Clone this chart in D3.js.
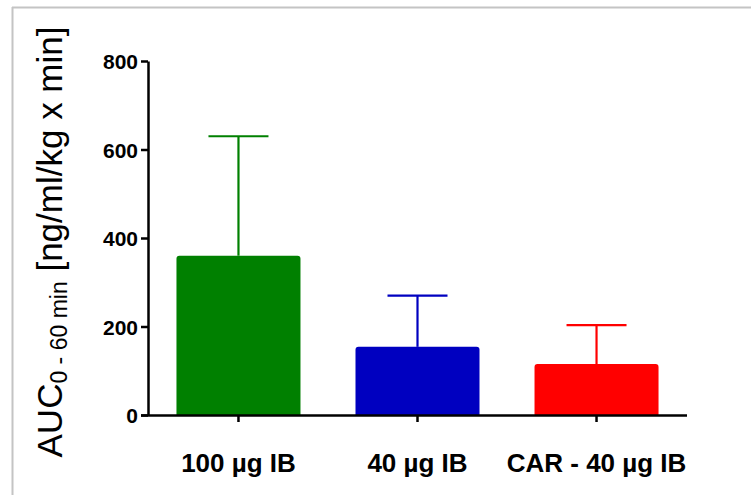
<!DOCTYPE html>
<html>
<head>
<meta charset="utf-8">
<script src="https://cdn.jsdelivr.net/npm/d3@7"></script>
<style>
  html, body { margin: 0; padding: 0; background: #fff; }
  svg { display: block; }
  .tick text { font-family: "Liberation Sans", Arial, sans-serif; font-weight: bold; fill: #000; }
</style>
</head>
<body>
<svg id="chart" width="751" height="495"></svg>
<script>
// Groups, mean AUC and upper error (SD) values
const groups = ["100 µg IB", "40 µg IB", "CAR - 40 µg IB"];
const means = [360, 154, 115];
const errors = [270, 116, 88];
const colors = ["#008000", "#0000c0", "#ff0000"];
const yTicks = [0, 200, 400, 600, 800];

const svg = d3.select("#chart");

// Frame lines around the figure panel
svg.append("line").attr("x1", 12).attr("x2", 751).attr("y1", 7.5).attr("y2", 7.5)
  .attr("stroke", "#c4c4c4").attr("stroke-width", 2);
svg.append("line").attr("x1", 12.5).attr("x2", 12.5).attr("y1", 7).attr("y2", 495)
  .attr("stroke", "#c4c4c4").attr("stroke-width", 2);

const x = d3.scaleBand().domain(groups).range([148, 687])
  .paddingInner(0.3073).paddingOuter(0.159);
const y = d3.scaleLinear().domain([0, 800]).range([415, 61]);

// Bars with softly rounded top corners
const r = 3;
svg.append("g").selectAll("path").data(groups).join("path")
  .attr("fill", (d, i) => colors[i])
  .attr("d", (d, i) => {
    const x0 = x(d), x1 = x(d) + x.bandwidth();
    const yt = y(means[i]), yb = y(0);
    return `M${x0},${yb} L${x0},${yt + r} Q${x0},${yt} ${x0 + r},${yt}
            L${x1 - r},${yt} Q${x1},${yt} ${x1},${yt + r} L${x1},${yb} Z`;
  });

// Error bars (upper whisker only)
const capHalf = 30;
const eb = svg.append("g").selectAll("g").data(groups).join("g")
  .attr("stroke", (d, i) => colors[i]).attr("stroke-width", 2.2).attr("fill", "none");
eb.append("line")
  .attr("x1", d => x(d) + x.bandwidth() / 2).attr("x2", d => x(d) + x.bandwidth() / 2)
  .attr("y1", (d, i) => y(means[i])).attr("y2", (d, i) => y(means[i] + errors[i]));
eb.append("line")
  .attr("x1", d => x(d) + x.bandwidth() / 2 - capHalf).attr("x2", d => x(d) + x.bandwidth() / 2 + capHalf)
  .attr("y1", (d, i) => y(means[i] + errors[i])).attr("y2", (d, i) => y(means[i] + errors[i]));

// Y axis
const yAxis = svg.append("g").attr("transform", "translate(148,0)")
  .call(d3.axisLeft(y).tickValues(yTicks).tickSize(7).tickSizeOuter(0).tickPadding(3));
yAxis.selectAll("path, line").attr("stroke", "#000").attr("stroke-width", 2.5);
yAxis.selectAll("text").attr("font-size", 21).attr("dy", "0.36em");

// X axis
const xAxis = svg.append("g").attr("transform", "translate(0,415)")
  .call(d3.axisBottom(x).tickSize(7).tickSizeOuter(0).tickPadding(32));
xAxis.select(".domain").attr("d", "M141,0.5H687");
xAxis.selectAll("path, line").attr("stroke", "#000").attr("stroke-width", 2.5);
xAxis.selectAll("text").attr("font-size", 26);

// Y axis title with subscript
const title = svg.append("text")
  .attr("transform", "translate(62,242) rotate(-90)")
  .attr("text-anchor", "middle")
  .attr("font-family", "Liberation Sans, Arial, sans-serif")
  .attr("font-size", 35)
  .attr("fill", "#000");
title.append("tspan").text("AUC");
title.append("tspan").attr("font-size", 23).attr("dy", 5).text("0 - 60 min");
title.append("tspan").attr("dy", -5).text(" [ng/ml/kg x min]");
</script>
</body>
</html>
